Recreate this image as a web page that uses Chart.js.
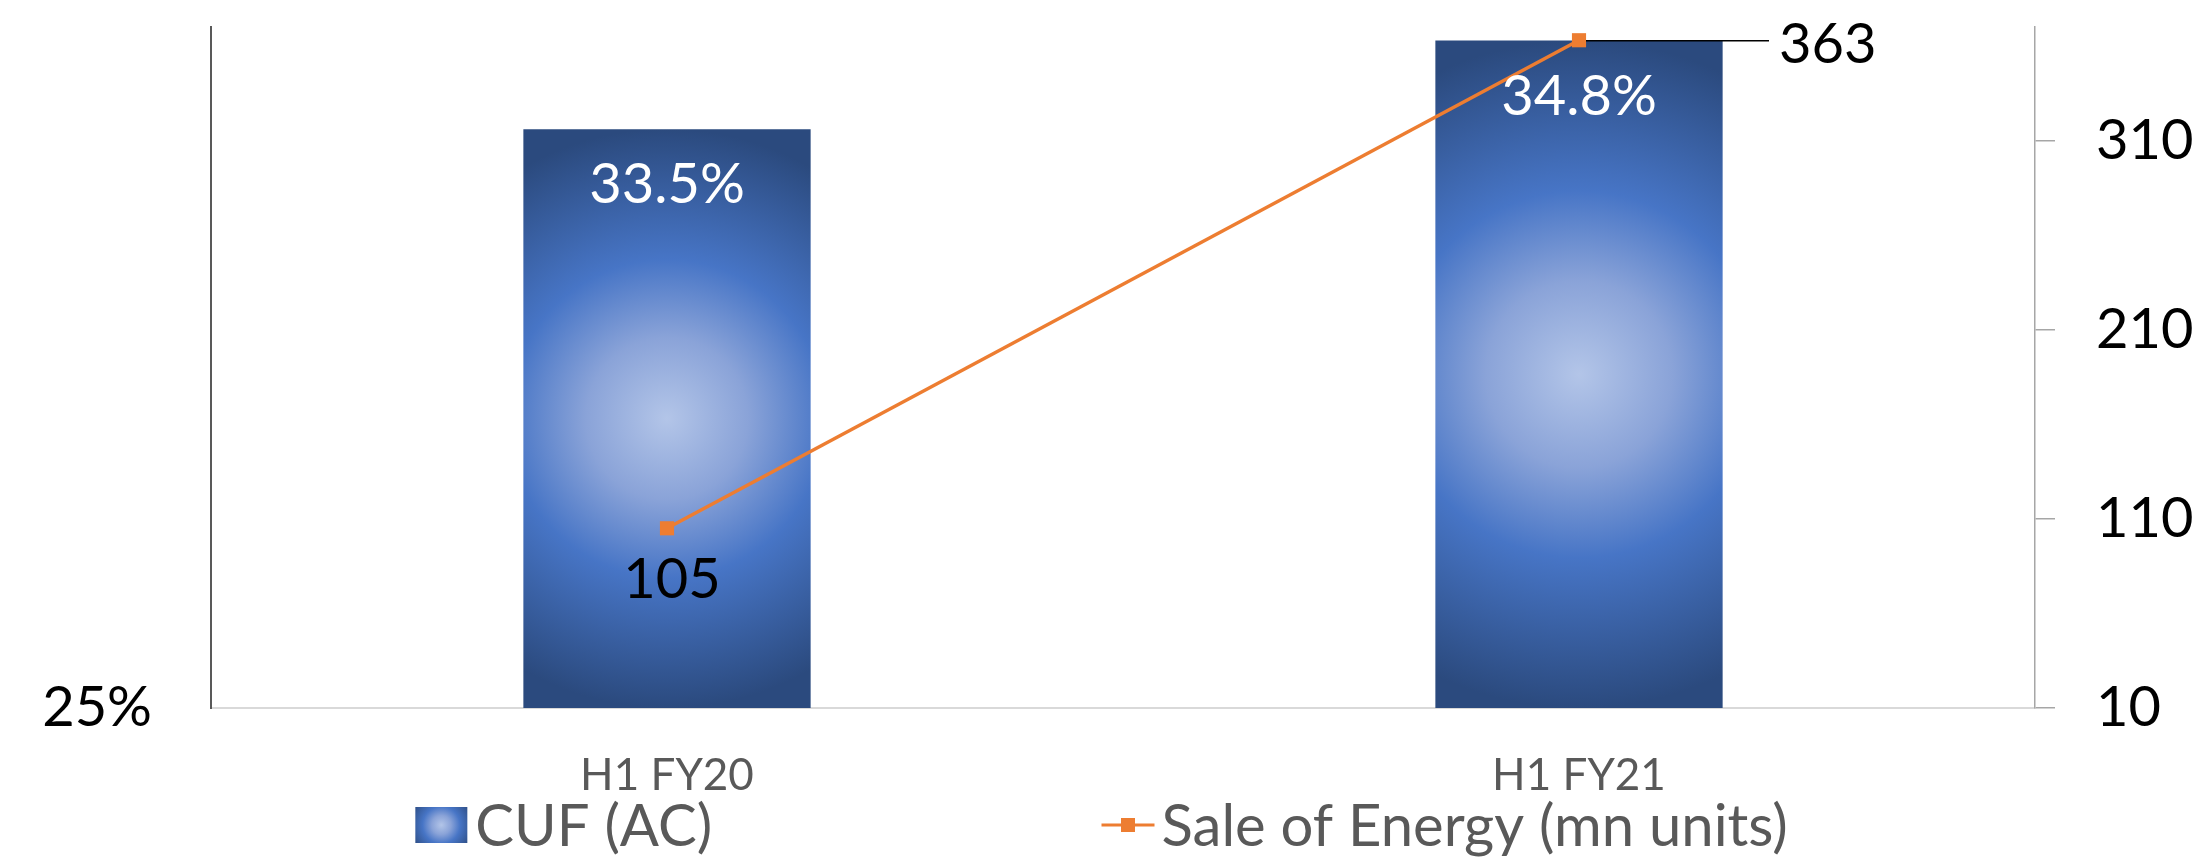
<!DOCTYPE html>
<html><head><meta charset="utf-8">
<script src="https://cdn.jsdelivr.net/npm/chart.js@4.4.0/dist/chart.umd.min.js"></script>
<style>html,body{margin:0;padding:0;background:#fff;overflow:hidden}#wrap{width:2203px;height:858px}</style>
</head><body><div id="wrap"><canvas id="c" width="2203" height="858"></canvas></div>
<script>
// ---- data ----
const categories = ['H1 FY20', 'H1 FY21'];
const cufValues = [33.5, 34.8];
const saleValues = [105, 363];
const cufTicks = [25];
const saleTicks = [10, 110, 210, 310];
const seriesNames = ['CUF (AC)', 'Sale of Energy (mn units)'];
const saleLabelPos = ['below', 'right'];

const FONT = 'Lato, "Open Sans", sans-serif';
const BIG = 56;
const ORANGE = '#ed7d31';

function radial(c2d, cx, cy, r) {
  const g = c2d.createRadialGradient(cx, cy, 0, cx, cy, r);
  g.addColorStop(0, '#b3c5e8');
  g.addColorStop(0.28, '#8aa3d8');
  g.addColorStop(0.55, '#4775c6');
  g.addColorStop(1, '#2b4a7e');
  return g;
}

const valueLabels = {
  id: 'valueLabels',
  afterDatasetsDraw(chart) {
    const ctx = chart.ctx;
    ctx.save();
    ctx.font = BIG + 'px ' + FONT;
    const capHalf = BIG * 0.36;
    ctx.textAlign = 'center';
    ctx.fillStyle = '#ffffff';
    chart.getDatasetMeta(0).data.forEach((el, i) => {
      ctx.fillText(cufValues[i].toFixed(1) + '%', el.x, el.y + 54 + capHalf);
    });
    ctx.fillStyle = '#000000';
    chart.getDatasetMeta(1).data.forEach((el, i) => {
      const txt = String(saleValues[i]);
      if (saleLabelPos[i] === 'below') {
        ctx.textAlign = 'center';
        ctx.fillText(txt, el.x + 5, el.y + 50 + capHalf);
      } else {
        ctx.strokeStyle = '#000';
        ctx.lineWidth = 1.5;
        ctx.beginPath();
        ctx.moveTo(el.x + 7, el.y + 0.5);
        ctx.lineTo(el.x + 190, el.y + 0.5);
        ctx.stroke();
        ctx.textAlign = 'left';
        ctx.fillText(txt, el.x + 200, el.y + 2.5 + capHalf);
      }
    });
    ctx.restore();
  }
};

const excelLegend = {
  id: 'excelLegend',
  afterDraw(chart) {
    const ctx = chart.ctx;
    ctx.save();
    const fs = 58;
    ctx.font = fs + 'px ' + FONT;
    const symW = 53, gap = 7;
    const widths = seriesNames.map(n => symW + gap + ctx.measureText(n).width);
    const slot = Math.max(...widths);
    let x = (chart.width - slot * seriesNames.length) / 2;
    const cy = chart.height - 33;
    seriesNames.forEach((name, i) => {
      if (i === 0) {
        ctx.fillStyle = radial(ctx, x + 26, cy, 34);
        ctx.fillRect(x, cy - 18, 52, 36);
      } else {
        ctx.strokeStyle = ORANGE;
        ctx.lineWidth = 3;
        ctx.beginPath();
        ctx.moveTo(x, cy);
        ctx.lineTo(x + symW, cy);
        ctx.stroke();
        ctx.fillStyle = ORANGE;
        ctx.fillRect(x + symW / 2 - 7, cy - 7, 14, 14);
      }
      ctx.fillStyle = '#595959';
      ctx.textAlign = 'left';
      ctx.textBaseline = 'alphabetic';
      ctx.fillText(name, x + symW + gap, cy + fs * 0.36);
      x += slot;
    });
    ctx.restore();
  }
};

Chart.defaults.font.family = FONT;

function noEdgePad(s) { s.paddingTop = 0; s.paddingBottom = 0; s.paddingLeft = 0; s.paddingRight = 0; }

new Chart(document.getElementById('c'), {
  type: 'bar',
  data: {
    labels: categories,
    datasets: [
      {
        type: 'bar',
        label: seriesNames[0],
        data: cufValues,
        yAxisID: 'y',
        order: 2,
        borderWidth: 0,
        barPercentage: 0.315,
        categoryPercentage: 1,
        backgroundColor: (c) => {
          const chart = c.chart;
          const xs = chart.scales.x, ys = chart.scales.y;
          if (c.type !== 'data' || !xs || !ys || !chart.chartArea) return '#4472c4';
          const cx = xs.getPixelForValue(c.dataIndex);
          const top = ys.getPixelForValue(c.raw);
          const bot = ys.getPixelForValue(ys.min);
          return radial(chart.ctx, cx, (top + bot) / 2, (bot - top) / 2);
        }
      },
      {
        type: 'line',
        label: seriesNames[1],
        data: saleValues,
        yAxisID: 'y2',
        order: 1,
        borderColor: ORANGE,
        borderWidth: 3.5,
        tension: 0,
        pointStyle: 'rect',
        pointRadius: 10,
        pointBackgroundColor: ORANGE,
        pointBorderWidth: 0
      }
    ]
  },
  options: {
    responsive: false,
    animation: false,
    events: [],
    devicePixelRatio: 1,
    layout: { padding: { top: 27, left: 0, right: 0, bottom: 0 } },
    plugins: { legend: { display: false }, tooltip: { enabled: false } },
    scales: {
      x: {
        grid: { display: false, drawTicks: false },
        border: { display: true, color: '#d9d9d9', width: 2 },
        ticks: { color: '#595959', font: { size: 44 }, padding: 41 },
        afterFit(s) { s.height = 150; noEdgePad(s); }
      },
      y: {
        position: 'left',
        min: 25, max: 35,
        grid: { display: false, drawTicks: false },
        border: { display: true, color: '#595959', width: 2 },
        ticks: { color: '#000', font: { size: BIG }, padding: 59, autoSkip: false, callback: v => v + '%' },
        afterBuildTicks(s) { s.ticks = cufTicks.map(v => ({ value: v })); },
        afterFit(s) { s.width = 211; noEdgePad(s); }
      },
      y2: {
        position: 'right',
        min: 10, max: 370,
        grid: { drawOnChartArea: false, drawTicks: true, tickLength: 20, color: '#a6a6a6', lineWidth: 1.5 },
        border: { display: true, color: '#a6a6a6', width: 1.5 },
        ticks: { color: '#000', font: { size: BIG }, padding: 41, autoSkip: false },
        afterBuildTicks(s) { s.ticks = saleTicks.map(v => ({ value: v })); },
        afterFit(s) { s.width = 168; noEdgePad(s); }
      }
    }
  },
  plugins: [valueLabels, excelLegend]
});
</script>
</body></html>
